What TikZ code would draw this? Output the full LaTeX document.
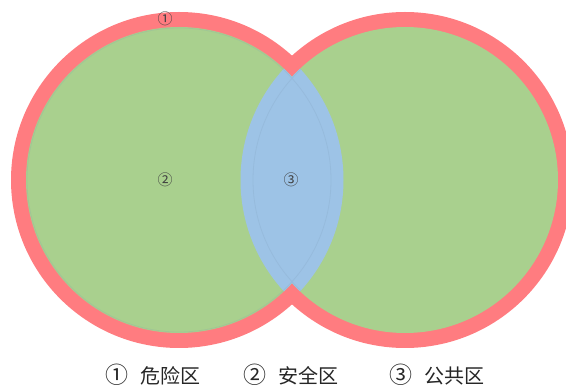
\documentclass[tikz,border=0pt]{standalone}
\usepackage{fontspec}
\newfontfamily\cjk{Noto Sans CJK SC}
\definecolor{zred}{HTML}{FF7C80}
\definecolor{zgreen}{HTML}{A9D08E}
\definecolor{zblue}{HTML}{9DC3E6}
\newcommand{\bignum}[1]{{\fontsize{23}{23}\selectfont #1}}
\begin{document}
\begin{tikzpicture}[x=1pt,y=-1pt,
  lab/.style={font=\cjk\fontsize{15}{15}\selectfont, text=black!75, inner sep=0pt},
  legend/.style={font=\cjk\fontsize{20}{20}\selectfont, text=black!85, inner sep=0pt, anchor=west}]
\useasboundingbox (0,0) rectangle (566,387);
\begin{scope}
  \clip (0,0) rectangle (566,387);
  \fill[zred] (179,180) circle[radius=168pt] (405,180) circle[radius=168pt];
  \fill[zgreen] (179,180) circle[radius=153pt] (405,180) circle[radius=153pt];
  \begin{scope}
    \clip (179,180) circle[radius=153pt] (405,180) circle[radius=153pt];
    \clip (179,180) circle[radius=164.5pt];
    \fill[zblue] (405,180) circle[radius=164.5pt];
    \draw[zblue!80!black, opacity=0.2, line width=0.8pt] (179,180) circle[radius=152pt] (405,180) circle[radius=152pt];
  \end{scope}
\end{scope}
\node[lab] (l1) at (165,19) {①};
\node[lab] (l2) at (165,180) {②};
\node[lab] (l3) at (291,180) {③};
\node[legend] (g1) at (105,375) {\bignum{①}\hspace{0.6em}危险区};
\node[legend] (g2) at (243,375) {\bignum{②}\hspace{0.6em}安全区};
\node[legend] (g3) at (389,375) {\bignum{③}\hspace{0.6em}公共区};
\end{tikzpicture}
\end{document}
